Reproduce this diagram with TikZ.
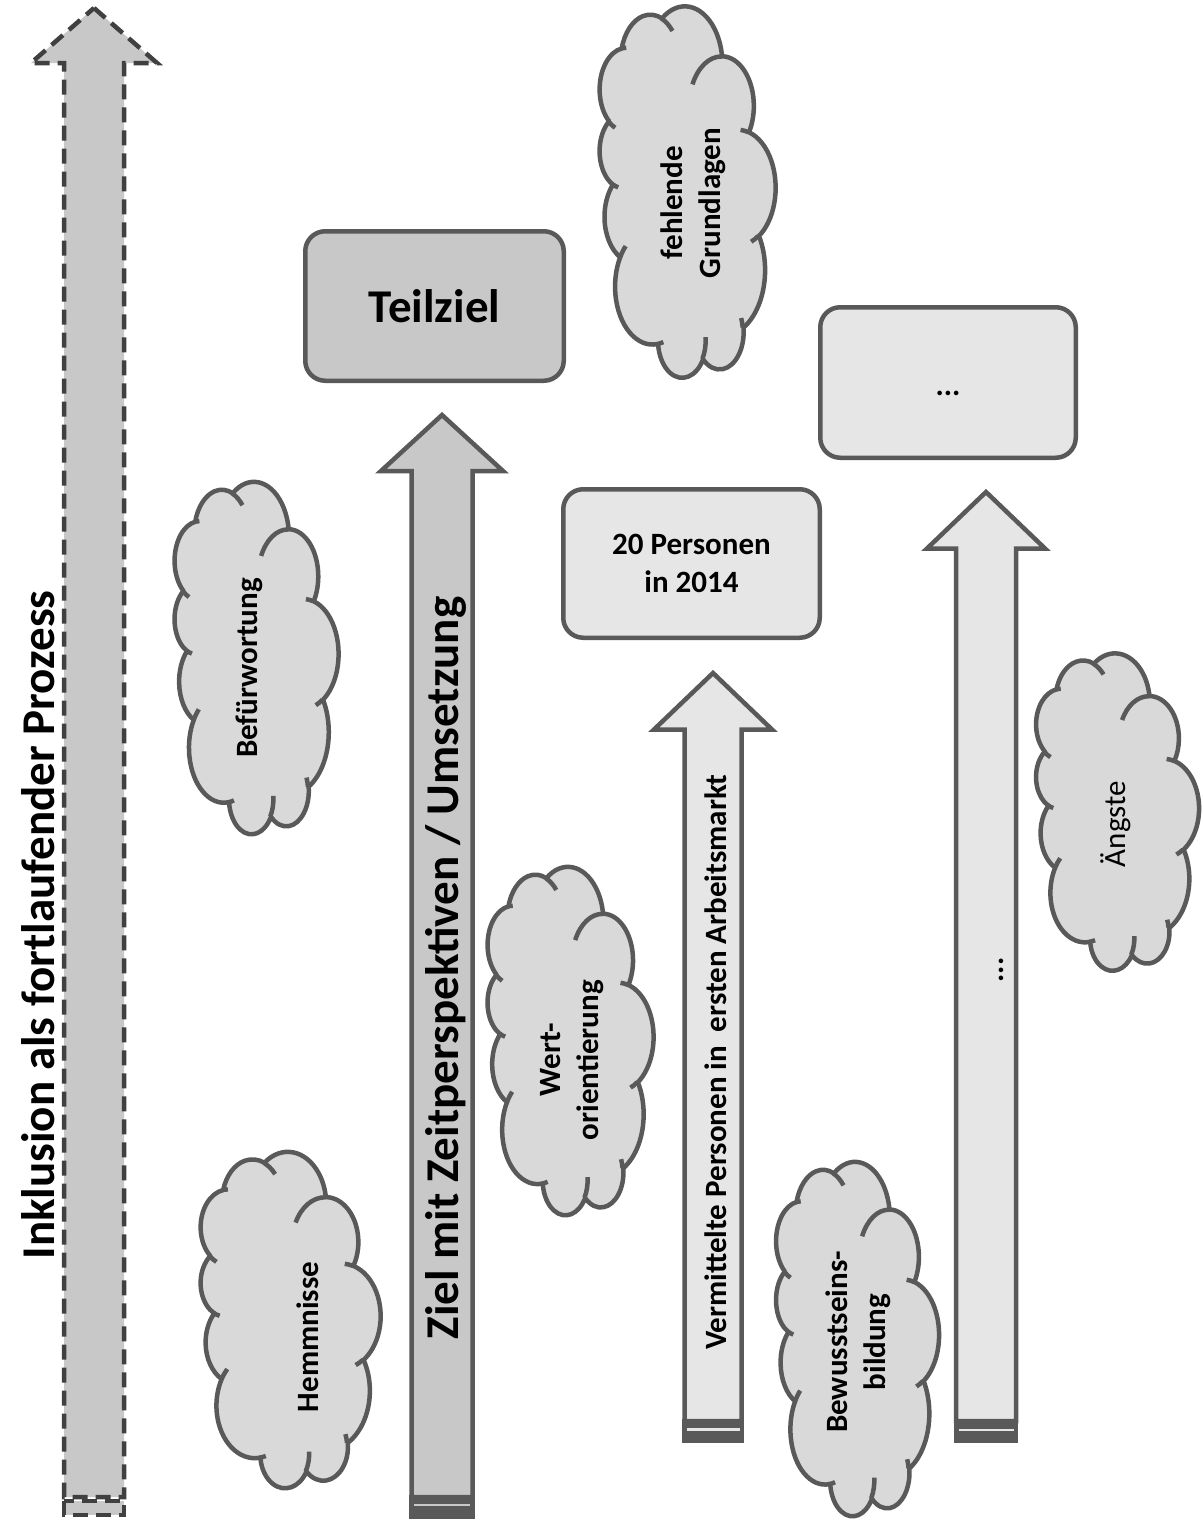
\documentclass[tikz,border=0pt]{standalone}
\usepackage{fontspec}
\setmainfont{Carlito}
\definecolor{bd}{HTML}{595959}
\definecolor{dk}{HTML}{C8C8C8}
\definecolor{lt}{HTML}{E6E6E6}
\definecolor{cl}{HTML}{D9D9D9}
\definecolor{dsh}{HTML}{404040}
% one arc of an OOXML-style cloud: wR hR stAng swAng (visual angles)
\newcommand\cla[4]{\pgfextra{%
 \pgfmathparse{atan2((#1)*sin(#3),(#2)*cos(#3))}\xdef\clA{\pgfmathresult}%
 \pgfmathparse{atan2((#1)*sin((#3)+(#4)),(#2)*cos((#3)+(#4)))}\xdef\clB{\pgfmathresult}%
 \pgfmathparse{(\clB)-(\clA)-360*round(((\clB)-(\clA)-(#4))/360)}\xdef\clD{\pgfmathresult}}%
 arc[start angle=\clA, delta angle=\clD, x radius=#1, y radius=#2]}
\newcommand\cloudpath{(3.9,14.37)
 \cla{6.753}{9.19}{-190.4875}{123.7805}
 \cla{5.333}{7.267}{-144.1024}{89.9452}
 \cla{4.365}{5.945}{-145.8079}{99.7230}
 \cla{4.857}{6.595}{-130.9861}{117.2417}
 \cla{5.333}{7.273}{-78.7089}{109.0269}
 \cla{6.775}{9.22}{-46.2673}{130.269}
 \cla{5.785}{7.867}{0.6250}{114.0333}
 \cla{6.752}{9.215}{22.4516}{115.1726}
 \cla{7.72}{10.543}{66.2426}{75.7110}
 \cla{4.36}{5.918}{-274.9421}{146.7356}
 \cla{4.345}{5.945}{-246.8285}{152.5189}
 -- cycle}
\newcommand\cloudinner{
 (4.693,26.177) \cla{4.345}{5.945}{86.742}{26.4295}
 (6.928,34.899) \cla{4.36}{5.918}{73.6105}{11.4475}
 (16.478,39.09) \cla{6.752}{9.215}{137.6242}{14.0811}
 (28.827,34.751) \cla{6.752}{9.215}{6.4533}{15.9984}
 (34.129,22.954) \cla{5.785}{7.867}{-70.2924}{70.9174}
 (41.798,15.354) \cla{5.333}{7.273}{30.318}{27.7515}
 (38.324,5.426) \cla{4.857}{6.595}{-13.7443}{14.8589}
 (29.078,3.952) \cla{4.857}{6.595}{-149.1815}{18.1954}
 (22.141,4.72) \cla{4.365}{5.945}{-163.4943}{17.6864}
 (14,5.192) \cla{6.753}{9.19}{-66.707}{12.3194}
 (4.127,15.789) \cla{6.753}{9.19}{157.6544}{11.8582}
}
% cloud: cx cy visualW visualH
\newcommand\mycloud[4]{%
 \begin{scope}[shift={(#1,-#2)}, rotate=90, xscale=#4/43.2, yscale=-#3/43.2, shift={(-21.6,-21.6)}]
  \filldraw[cloudsty] \cloudpath;
  \draw[cloudsty, fill=none] \cloudinner;
 \end{scope}}
\begin{document}
\begin{tikzpicture}[x=1pt,y=1pt,
  cloudsty/.style={draw=bd, fill=cl, line width=4.5pt, line join=round},
  arrowsty/.style={draw=bd, line width=4.5pt, line join=miter},
  boxsty/.style={draw=bd, line width=4.5pt, rounded corners=20pt, inner sep=0pt},
  bigtxt/.style={font=\fontsize{47}{56}\selectfont\bfseries},
  midtxt/.style={font=\fontsize{31}{38}\selectfont\bfseries},
  cltxt/.style={font=\fontsize{31}{38}\selectfont\bfseries, rotate=90, align=center, inner sep=0pt}]
\useasboundingbox (0,0) rectangle (1204,-1523);
\fill[white] (0,0) rectangle (1204,-1523);

% left dashed arrow
\draw[fill=dk, draw=dsh, line width=4.5pt, dash pattern=on 15pt off 8pt]
  (94,-8) -- (157,-63) -- (124,-63) -- (124,-1497) -- (64,-1497) -- (64,-63) -- (31,-63) -- cycle;
\draw[fill=dk, draw=dsh, line width=4.5pt, dash pattern=on 15pt off 8pt]
  (64,-1501) rectangle (124,-1515);

% arrow 2 (Ziel)
\draw[arrowsty, fill=dk] (442,-415) -- (503,-471) -- (472.5,-471) -- (472.5,-1497) -- (411.5,-1497) -- (411.5,-471) -- (381,-471) -- cycle;
\fill[bd] (409.25,-1495) rectangle (474.75,-1519);
\fill[dk] (414,-1503.5) rectangle (470,-1506);

% arrow 3 (Vermittelte)
\draw[arrowsty, fill=lt] (713,-673) -- (772,-729.5) -- (741.5,-729.5) -- (741.5,-1421) -- (684.5,-1421) -- (684.5,-729.5) -- (654,-729.5) -- cycle;
\fill[bd] (682.25,-1419) rectangle (743.75,-1443);
\fill[lt] (686.5,-1428) rectangle (739.5,-1430.5);

% arrow 4
\draw[arrowsty, fill=lt] (986,-492) -- (1045,-548.5) -- (1016,-548.5) -- (1016,-1421) -- (956,-1421) -- (956,-548.5) -- (927,-548.5) -- cycle;
\fill[bd] (953.75,-1419) rectangle (1018.25,-1443);
\fill[lt] (958.5,-1428.5) rectangle (1013.5,-1431);

% boxes
\node[boxsty, fill=dk, minimum width=258.5pt, minimum height=149.5pt, bigtxt] (teil) at (434.5,-306) {Teilziel};
\node[boxsty, fill=lt, minimum width=256.5pt, minimum height=148.5pt, midtxt, align=center] (pers) at (691.5,-563.5) {20 Personen\\in 2014};
\node[boxsty, fill=lt, minimum width=255.5pt, minimum height=150.5pt, midtxt, text height=25pt, text depth=0pt] (dotsbox) at (948,-382.5) {...};

% clouds
\mycloud{687}{192}{176}{371}
\mycloud{256}{658}{164}{352}
\mycloud{290}{1320}{180}{336}
\mycloud{570}{1041}{166}{348}
\mycloud{857}{1339}{163}{354}
\mycloud{1117}{812}{163}{317}

% texts
\node[bigtxt, rotate=90, anchor=base] (inkl) at (54,-925) {Inklusion als fortlaufender Prozess};
\node[bigtxt, rotate=90, anchor=base] (ziel) at (458,-968) {Ziel mit Zeitperspektiven / Umsetzung};
\node[midtxt, rotate=90, anchor=base] (verm) at (726,-1062) {Vermittelte Personen in\ \ ersten Arbeitsmarkt};
\node[midtxt, rotate=90] (dots4) at (1001,-970) {...};

\node[cltxt] (tfehl) at (693,-203) {fehlende\\Grundlagen};
\node[cltxt] (tbef) at (249,-668) {Befürwortung};
\node[cltxt] (themm) at (308,-1337) {Hemmnisse};
\node[cltxt] (twert) at (572,-1060) {Wert-\\orientierung};
\node[cltxt, font=\fontsize{31}{38}\selectfont] (taeng) at (1116,-824) {Ängste};
\node[cltxt] (tbew) at (858,-1342) {Bewusstseins-\\bildung};
\end{tikzpicture}
\end{document}
